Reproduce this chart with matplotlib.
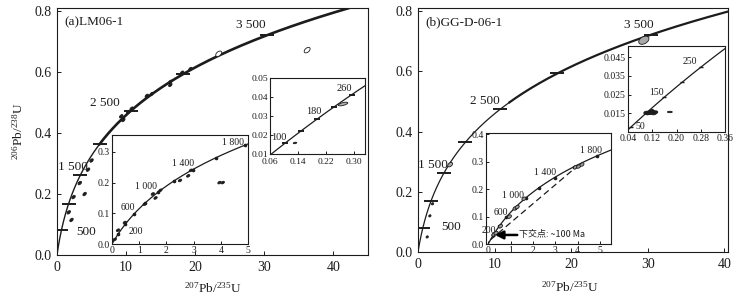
import numpy as np
import matplotlib
matplotlib.use("Agg")
import matplotlib.pyplot as plt
from matplotlib.patches import Ellipse
from matplotlib.transforms import ScaledTranslation

plt.rcParams["font.family"] = ["Liberation Serif", "DejaVu Serif"]
plt.rcParams["mathtext.fontset"] = "custom"
plt.rcParams["mathtext.rm"] = "Liberation Serif"
plt.rcParams["mathtext.it"] = "Liberation Serif:italic"

INK = "#1c1c1c"

# decay constants (1/yr)
L238 = 1.55125e-10
L235 = 9.8485e-10

# ---- data ----
# concordia age marks (Ma)
main_tick_ages = [500, 1000, 1500, 2000, 2500, 3000, 3500]
main_label_ages = ["500", "1 500", "2 500", "3 500"]

# (a) LM06-1 main panel spots
a_x = [9.6, 10.3, 10.8, 9.3, 13.0, 13.7, 16.4, 16.4, 18.1, 19.3, 23.4, 36.2, 4.0, 3.3, 2.1, 1.7, 2.4, 4.5, 5.0]
a_y = [0.443, 0.469, 0.480, 0.455, 0.522, 0.528, 0.568, 0.558, 0.598, 0.610, 0.660, 0.672, 0.200, 0.236, 0.115, 0.140, 0.190, 0.280, 0.310]
a_open = [False] * 10 + [True, True] + [False] * 7

# (a) lower inset
a1_ages = [200, 400, 600, 800, 1000, 1200, 1400, 1600, 1800]
a1_labels = ["200", "600", "1 000", "1 400", "1 800"]
a1_x = [0.10, 0.22, 0.47, 1.20, 1.50, 1.60, 1.78, 2.50, 2.80, 2.90, 3.95, 4.07]
a1_y = [0.015, 0.045, 0.070, 0.130, 0.163, 0.150, 0.175, 0.207, 0.222, 0.240, 0.200, 0.200]

# (a) upper inset
a2_ages = [100, 140, 180, 220, 260]
a2_labels = ["100", "180", "260"]
a2_x = [0.132, 0.268]
a2_y = [0.0158, 0.0363]

# (b) GG-D-06-1 main panel spots
b_x = [29.5, 4.2, 1.2, 1.55, 1.9]
b_y = [0.703, 0.290, 0.050, 0.120, 0.160]

# (b) lower inset
b1_ages = [200, 400, 600, 800, 1000, 1200, 1400, 1600, 1800]
b1_labels = ["200", "600", "1 000", "1 400", "1 800"]
b1_x = [0.25, 0.35, 0.55, 0.95, 1.20, 1.30, 1.60, 3.90, 4.05, 4.20]
b1_y = [0.035, 0.040, 0.065, 0.100, 0.130, 0.135, 0.165, 0.280, 0.283, 0.290]
discordia_ages = [100, 1660]

# (b) upper inset
b2_ages = [50, 100, 150, 200, 250]
b2_labels = ["50", "150", "250"]
b2_x = [0.100, 0.105, 0.110, 0.115, 0.120, 0.125, 0.130, 0.118, 0.178]
b2_y = [0.0153, 0.0150, 0.0155, 0.0152, 0.0158, 0.0150, 0.0155, 0.0162, 0.0157]


def concordia(ages):
    t = np.asarray(ages, float) * 1e6
    return np.exp(L235 * t) - 1, np.exp(L238 * t) - 1


def curve(ax, t0, t1, lw):
    cx, cy = concordia(np.linspace(t0, t1, 400))
    ax.plot(cx, cy, color=INK, lw=lw, zorder=3)


def spot(ax, x, y, w, h, ang, fc, lw=0.6):
    # ellipse of fixed size (points) centred on a data position
    tr = ax.figure.dpi_scale_trans + ScaledTranslation(x, y, ax.transData)
    e = Ellipse((0, 0), w / 72, h / 72, angle=ang, transform=tr,
                facecolor=fc, edgecolor=INK, lw=lw, zorder=4)
    ax.add_patch(e)


def style(ax, size, length, pad):
    ax.tick_params(direction="in", length=length, width=0.7, labelsize=size,
                   pad=pad, colors=INK)
    for s in ax.spines.values():
        s.set_linewidth(0.8)
        s.set_color(INK)


fig = plt.figure(figsize=(7.38, 3.03), dpi=100)

# ================= panel (a) =================
ax = fig.add_axes([0.0772, 0.1584, 0.4214, 0.815])
curve(ax, 0, 2000, 1.0)
curve(ax, 2000, 3900, 1.9)
tx, ty = concordia(main_tick_ages)
ax.plot(tx, ty, ls="none", marker="_", ms=10, mew=1.4, color=INK, zorder=4)
for x, y, o in zip(a_x, a_y, a_open):
    if o:
        spot(ax, x, y, 5, 3, 40, "white")
    else:
        spot(ax, x, y, 3, 1.8, 45, INK)
for s, (x, y) in zip(main_label_ages, [(2.8, 0.075), (2.3, 0.29), (7.0, 0.50), (28.0, 0.755)]):
    ax.text(x, y, s, fontsize=9.5, color=INK, ha="left" if s == "500" else "center", va="center")
ax.text(0.025, 0.965, "(a)LM06-1", transform=ax.transAxes, fontsize=9.5,
        color=INK, va="top")
ax.set_xlim(0, 45)
ax.set_ylim(0, 0.81)
ax.set_xticks([0, 10, 20, 30, 40])
ax.set_yticks([0, 0.2, 0.4, 0.6, 0.8])
ax.set_yticklabels(["0.0", "0.2", "0.4", "0.6", "0.8"])
style(ax, 10, 3, 4)
ax.set_xlabel(r"$^{207}$Pb/$^{235}$U", fontsize=9.5, color=INK)
ax.xaxis.set_label_coords(0.50, -0.105)
ax.set_ylabel(r"$^{206}$Pb/$^{238}$U", fontsize=9.5, color=INK)
ax.yaxis.set_label_coords(-0.10, 0.50)

# lower inset
ia = fig.add_axes([0.1518, 0.1947, 0.1843, 0.3597])
ia.set_facecolor("white")
curve(ia, 0, 2000, 0.9)
tx, ty = concordia(a1_ages)
ia.plot(tx, ty, ls="none", marker="o", ms=1.6, color=INK, zorder=4)
for x, y in zip(a1_x, a1_y):
    spot(ia, x, y, 2.6, 1.6, 30, INK)
for s, (x, y) in zip(a1_labels, [(0.62, 0.04), (0.6, 0.12), (1.25, 0.187), (2.6, 0.262), (4.45, 0.33)]):
    ia.text(x, y, s, fontsize=7, color=INK, ha="left" if s == "200" else "center", va="center")
ia.set_xlim(0, 5)
ia.set_ylim(0, 0.355)
ia.set_xticks([0, 1, 2, 3, 4, 5])
ia.set_yticks([0, 0.1, 0.2, 0.3])
ia.set_yticklabels(["0.0", "0.1", "0.2", "0.3"])
style(ia, 7, 2.5, 1.5)

# upper inset
ib = fig.add_axes([0.3652, 0.4918, 0.1294, 0.2508])
ib.set_facecolor("white")
curve(ib, 40, 320, 0.9)
tx, ty = concordia(a2_ages)
ib.plot(tx, ty, ls="none", marker="_", ms=4, mew=1.4, color=INK, zorder=4)
spot(ib, a2_x[0], a2_y[0], 2.5, 1, 10, INK)
spot(ib, a2_x[1], a2_y[1], 7, 2, 15, "#b0b0b0")
for s, (x, y) in zip(a2_labels, [(0.085, 0.0185), (0.185, 0.0325), (0.272, 0.0445)]):
    ib.text(x, y, s, fontsize=7.5, color=INK, ha="center", va="center")
ib.set_xlim(0.06, 0.33)
ib.set_ylim(0.01, 0.05)
ib.set_xticks([0.06, 0.14, 0.22, 0.30])
ib.set_xticklabels(["0.06", "0.14", "0.22", "0.30"])
ib.set_yticks([0.01, 0.02, 0.03, 0.04, 0.05])
ib.set_yticklabels(["0.01", "0.02", "0.03", "0.04", "0.05"])
style(ib, 6.8, 2.5, 1.2)
ib.tick_params(axis="x", pad=2.6)
ib.tick_params(axis="y", pad=0.8)

# ================= panel (b) =================
bx = fig.add_axes([0.5664, 0.1683, 0.4201, 0.8053])
curve(bx, 0, 2600, 0.9)
curve(bx, 2600, 3800, 1.6)
tx, ty = concordia(main_tick_ages)
bx.plot(tx, ty, ls="none", marker="_", ms=10, mew=1.4, color=INK, zorder=4)
spot(bx, b_x[0], b_y[0], 8, 5, 30, "#a8a8a8")
spot(bx, b_x[1], b_y[1], 4, 2.5, 40, "#a8a8a8")
for x, y in zip(b_x[2:], b_y[2:]):
    spot(bx, x, y, 1.8, 1.4, 40, INK)
for s, (x, y) in zip(main_label_ages, [(3.0, 0.082), (2.0, 0.29), (8.7, 0.50), (28.8, 0.755)]):
    bx.text(x, y, s, fontsize=9.5, color=INK, ha="left" if s == "500" else "center", va="center")
bx.text(0.025, 0.965, "(b)GG-D-06-1", transform=bx.transAxes, fontsize=9.5,
        color=INK, va="top")
bx.set_xlim(0, 40.5)
bx.set_ylim(0, 0.81)
bx.set_xticks([0, 10, 20, 30, 40])
bx.set_yticks([0, 0.2, 0.4, 0.6, 0.8])
bx.set_yticklabels(["0.0", "0.2", "0.4", "0.6", "0.8"])
style(bx, 10, 3, 4)
bx.set_xlabel(r"$^{207}$Pb/$^{235}$U", fontsize=9.5, color=INK)
bx.xaxis.set_label_coords(0.49, -0.115)

# lower inset
ic = fig.add_axes([0.6585, 0.1947, 0.1694, 0.3663])
ic.set_facecolor("white")
curve(ic, 0, 2000, 0.9)
tx, ty = concordia(b1_ages)
ic.plot(tx, ty, ls="none", marker="o", ms=1.6, color=INK, zorder=4)
dx, dy = concordia(discordia_ages)
ic.plot(dx, dy, ls=(0, (5, 3)), lw=0.9, color=INK, zorder=3)
for x, y in zip(b1_x, b1_y):
    spot(ic, x, y, 3.2, 2.2, 35, "#9a9a9a")
for s, (x, y) in zip(b1_labels, [(0.05, 0.05), (0.55, 0.115), (1.1, 0.178), (2.55, 0.262), (4.6, 0.342)]):
    ic.text(x, y, s, fontsize=7, color=INK, ha="center", va="center")
ic.annotate("", xy=(0.3, 0.033), xytext=(1.3, 0.033),
            arrowprops=dict(arrowstyle="-|>", lw=1.8, color="black",
                            mutation_scale=12, shrinkA=0, shrinkB=0), zorder=5)
ic.text(1.4, 0.036, "下交点: ~100 Ma", fontsize=6.5, color=INK, va="center",
        family=["Noto Sans CJK SC", "Liberation Serif"])
ic.set_xlim(-0.1, 5.5)
ic.set_ylim(0, 0.405)
ic.set_xticks([0, 1, 2, 3, 4, 5])
ic.set_yticks([0, 0.1, 0.2, 0.3, 0.4])
ic.set_yticklabels(["0.0", "0.1", "0.2", "0.3", "0.4"])
style(ic, 7, 2.5, 1.5)

# upper inset
idd = fig.add_axes([0.851, 0.5644, 0.1314, 0.2838])
idd.set_facecolor("white")
curve(idd, 20, 330, 0.9)
tx, ty = concordia(b2_ages)
idd.plot(tx, ty, ls="none", marker="_", ms=3, mew=1.0, color=INK, zorder=4)
for x, y in zip(b2_x[:-1], b2_y[:-1]):
    spot(idd, x, y, 3.5, 2.2, 10, INK)
spot(idd, b2_x[-1], b2_y[-1], 3.5, 1.0, 0, INK)
for s, (x, y) in zip(b2_labels, [(0.08, 0.0078), (0.135, 0.0262), (0.245, 0.0428)]):
    idd.text(x, y, s, fontsize=7, color=INK, ha="center", va="center")
idd.set_xlim(0.04, 0.36)
idd.set_ylim(0.005, 0.051)
idd.set_xticks([0.04, 0.12, 0.20, 0.28, 0.36])
idd.set_xticklabels(["0.04", "0.12", "0.20", "0.28", "0.36"])
idd.set_yticks([0.015, 0.025, 0.035, 0.045])
idd.set_yticklabels(["0.015", "0.025", "0.035", "0.045"])
style(idd, 7, 2.5, 1.5)

fig.savefig("out.png", dpi=100)
